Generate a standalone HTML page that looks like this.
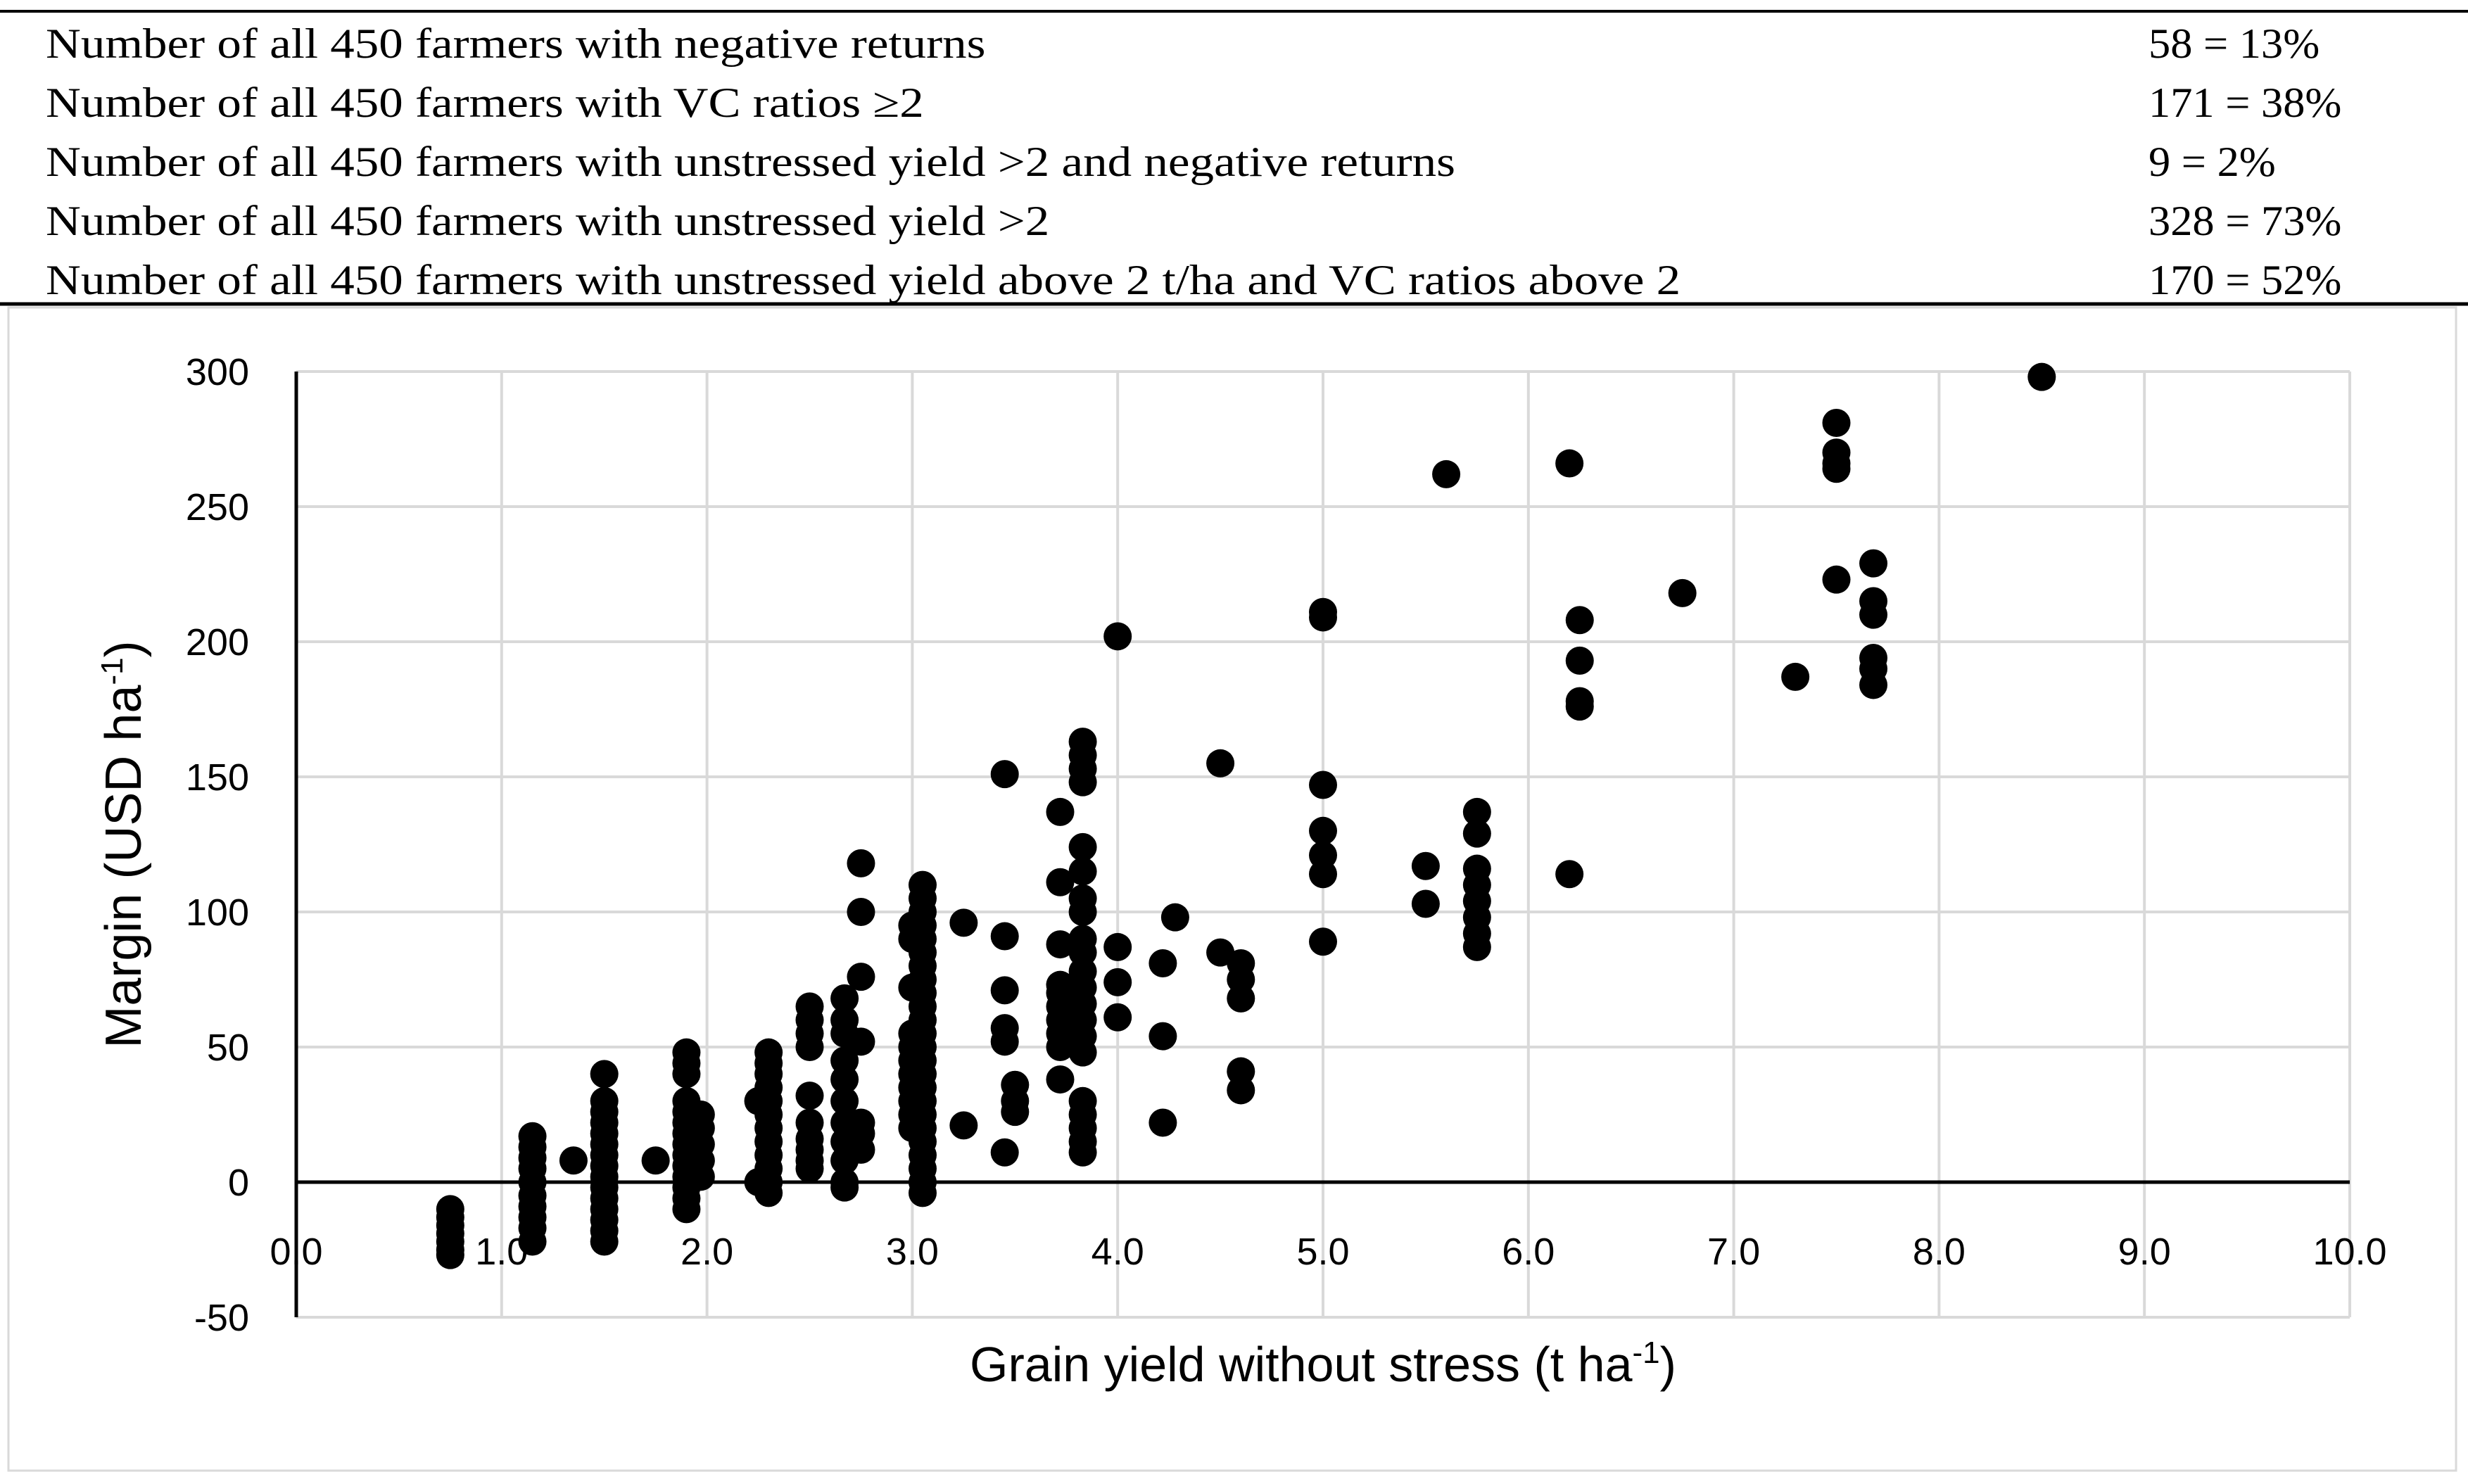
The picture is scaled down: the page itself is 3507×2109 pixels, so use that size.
<!DOCTYPE html>
<html><head><meta charset="utf-8"><style>
body{margin:0;background:#fff;}
svg{display:block}
</style></head><body>
<svg width="3507" height="2109" xmlns="http://www.w3.org/2000/svg">
<rect x="0" y="0" width="3507" height="2109" fill="#fff"/>
<g id="table" font-family="'Liberation Serif', serif" font-size="60" fill="#000">
<line x1="0" y1="16" x2="3507" y2="16" stroke="#000" stroke-width="4"/>
<line x1="0" y1="432" x2="3507" y2="432" stroke="#000" stroke-width="5"/>
</g>
<rect x="12" y="437" width="3478" height="1653" fill="none" stroke="#d9d9d9" stroke-width="3"/>
<g id="grid"></g>
<g id="axes"></g>
<g id="points"></g>
<text x="1880" y="1963" text-anchor="middle" font-family="'Liberation Sans', sans-serif" font-size="70">Grain yield without stress (t ha<tspan dy="-26" font-size="44">-1</tspan><tspan dy="26">)</tspan></text>
<text transform="translate(200,1200) rotate(-90)" text-anchor="middle" font-family="'Liberation Sans', sans-serif" font-size="72">Margin (USD ha<tspan dy="-26" font-size="44">-1</tspan><tspan dy="26">)</tspan></text>
</svg>
<script>
const tableLabels=["Number of all 450 farmers with negative returns","Number of all 450 farmers with VC ratios ≥2","Number of all 450 farmers with unstressed yield >2 and negative returns","Number of all 450 farmers with unstressed yield >2","Number of all 450 farmers with unstressed yield above 2 t/ha and VC ratios above 2"];
const tableValues=["58 = 13%","171 = 38%","9 = 2%","328 = 73%","170 = 52%"];
const xTicks=["0.0","1.0","2.0","3.0","4.0","5.0","6.0","7.0","8.0","9.0","10.0"];
const yTicks=[-50,0,50,100,150,200,250,300];
const columnYields=[0.75,1.15,1.35,1.5,1.75,1.9,1.97,2.25,2.3,2.5,2.67,2.75,3.0,3.05,3.25,3.45,3.5,3.72,3.83,4.0,4.22,4.28,4.5,4.6,5.0,5.5,5.6,5.75,6.2,6.25,6.75,7.3,7.5,7.68,8.5];
const columnMargins=[
[-10,-13,-16,-19,-22,-25,-27],
[17,13,9,5,0,-5,-9,-13,-17,-22],
[8],
[40,30,26,22,18,14,10,6,2,-2,-6,-10,-14,-18,-22],
[8],
[48,44,40,30,26,22,18,14,10,6,2,-2,-6,-10],
[25,20,14,8,2],
[30,0],
[48,44,40,35,30,25,20,15,10,5,0,-4],
[65,60,55,50,32,22,16,12,8,5],
[68,60,55,45,38,30,22,15,8,0,-2],
[118,100,76,52,22,18,12],
[95,90,72,55,50,45,40,35,30,25,20],
[110,105,100,95,90,85,80,75,70,65,60,55,50,45,40,35,30,25,20,15,10,5,0,-4],
[96,21],
[151,91,71,57,52,11],
[36,30,26],
[137,111,88,73,70,65,60,55,50,38],
[163,158,153,148,124,115,105,100,90,85,78,72,66,60,54,48,30,25,20,15,11],
[202,87,74,61],
[81,54,22],
[98],
[155,85],
[81,75,68,41,34],
[211,209,147,130,121,114,89],
[117,103],
[262],
[137,129,116,110,104,98,92,87],
[266,114],
[208,193,178,176],
[218],
[187],
[281,270,266,264,223],
[229,215,210,194,190,184],
[298]
];
const NS="http://www.w3.org/2000/svg";
const X0=421,X1=3339,YT=528,YB=1872,YMIN=-50,YMAX=300;
const sx=v=>X0+(v/10)*(X1-X0);
const sy=v=>YB-(v-YMIN)/(YMAX-YMIN)*(YB-YT);
function mk(tag,attrs,parent){const e=document.createElementNS(NS,tag);for(const k in attrs)e.setAttribute(k,attrs[k]);parent.appendChild(e);return e;}
const table=document.getElementById('table');
tableLabels.forEach((t,i)=>{
const y=82+i*84;
const a=mk('text',{x:65,y:y},table);a.textContent=t;


const wa=a.getComputedTextLength();
a.setAttribute('textLength',(wa*1.15).toFixed(1));
a.setAttribute('lengthAdjust','spacingAndGlyphs');
const b=mk('text',{x:3053,y:y},table);b.textContent=tableValues[i];


const wb=b.getComputedTextLength();
b.setAttribute('textLength',(wb*1.04).toFixed(1));
b.setAttribute('lengthAdjust','spacingAndGlyphs');
});
const grid=document.getElementById('grid'),axes=document.getElementById('axes');
xTicks.forEach((t,i)=>{
if(i>0){const l=mk('line',{x1:sx(i),x2:sx(i),y1:YT,y2:YB,stroke:'#d9d9d9','stroke-width':4},grid);

}
const tx=mk('text',{x:sx(i),y:1797,'text-anchor':'middle','font-family':"'Liberation Sans', sans-serif",'font-size':54},axes);
tx.textContent=t;


});
yTicks.forEach(v=>{
if(v!==0){const l=mk('line',{x1:X0,x2:X1,y1:sy(v),y2:sy(v),stroke:'#d9d9d9','stroke-width':4},grid);

}
const tx=mk('text',{x:354,y:sy(v)+19,'text-anchor':'end','font-family':"'Liberation Sans', sans-serif",'font-size':54},axes);
tx.textContent=String(v);


});
const ya=mk('line',{x1:X0,x2:X0,y1:YT,y2:YB,stroke:'#000','stroke-width':5},axes);


const xa=mk('line',{x1:X0,x2:X1,y1:sy(0),y2:sy(0),stroke:'#000','stroke-width':5},axes);


const pts=document.getElementById('points');
columnYields.forEach((x,i)=>{
columnMargins[i].forEach(m=>{
const c=mk('circle',{cx:sx(x),cy:sy(m),r:20,fill:'#000'},pts);


});
});
</script>
</body></html>
